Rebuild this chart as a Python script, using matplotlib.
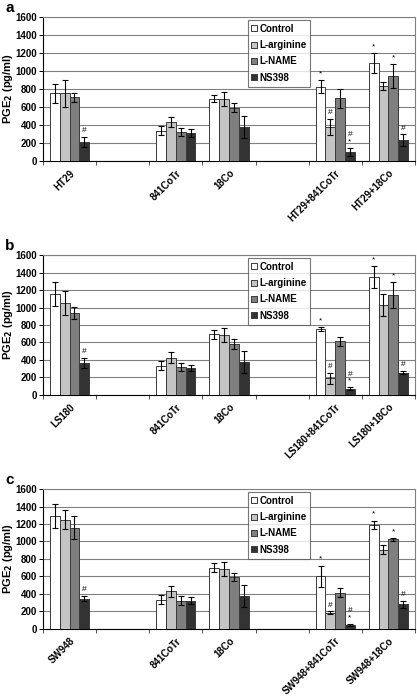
import numpy as np
import matplotlib
matplotlib.use('Agg')
import matplotlib.pyplot as plt

plt.rcParams['font.family'] = ['Liberation Sans', 'DejaVu Sans']
plt.rcParams['font.weight'] = 'bold'

treatments = ['Control', 'L-arginine', 'L-NAME', 'NS398']
colors = ['#ffffff', '#c4c4c4', '#7f7f7f', '#333333']

cats_a = ['HT29', '', '841CoTr', '18Co', '', 'HT29+841CoTr', 'HT29+18Co']
cats_b = ['LS180', '', '841CoTr', '18Co', '', 'LS180+841CoTr', 'LS180+18Co']
cats_c = ['SW948', '', '841CoTr', '18Co', '', 'SW948+841CoTr', 'SW948+18Co']

nan = np.nan
# rows: Control, L-arginine, L-NAME, NS398 ; columns follow categories
mean_a = [[750, nan, 335, 690, nan, 825, 1090],
          [750, nan, 430, 690, nan, 380, 835],
          [710, nan, 320, 590, nan, 695, 945],
          [215, nan, 310, 375, nan, 100, 230]]
err_a = [[105, nan, 50, 40, nan, 75, 110],
         [145, nan, 55, 75, nan, 90, 45],
         [50, nan, 45, 50, nan, 105, 135],
         [55, nan, 40, 120, nan, 45, 65]]

mean_b = [[1155, nan, 335, 695, nan, 755, 1345],
          [1050, nan, 425, 690, nan, 190, 1025],
          [935, nan, 320, 585, nan, 615, 1145],
          [365, nan, 310, 375, nan, 72, 255]]
err_b = [[135, nan, 50, 50, nan, 18, 125],
         [135, nan, 65, 80, nan, 60, 125],
         [70, nan, 45, 55, nan, 50, 145],
         [55, nan, 38, 125, nan, 17, 17]]

mean_c = [[1290, nan, 335, 700, nan, 605, 1190],
          [1250, nan, 430, 690, nan, 185, 905],
          [1160, nan, 325, 590, nan, 415, 1025],
          [345, nan, 320, 380, nan, 45, 285]]
err_c = [[140, nan, 55, 50, nan, 120, 50],
         [105, nan, 60, 80, nan, 15, 50],
         [130, nan, 50, 45, nan, 55, 15],
         [30, nan, 40, 125, nan, 12, 40]]

# significance marks: (category index, treatment index, text)
marks_a = [(0, 3, '#'), (5, 0, '*'), (5, 1, '#'), (5, 3, '#\n*'),
           (6, 0, '*'), (6, 2, '*'), (6, 3, '#')]
marks_b = [(0, 3, '#'), (5, 0, '*'), (5, 1, '#'), (5, 3, '#\n*'),
           (6, 0, '*'), (6, 2, '*'), (6, 3, '#')]
marks_c = [(0, 3, '#'), (5, 0, '*'), (5, 1, '#'), (5, 3, '#\n*'),
           (6, 0, '*'), (6, 2, '*'), (6, 3, '#')]

panels = [('a', cats_a, mean_a, err_a, marks_a),
          ('b', cats_b, mean_b, err_b, marks_b),
          ('c', cats_c, mean_c, err_c, marks_c)]

fig = plt.figure(figsize=(4.17, 6.96), dpi=100)
rects = [[0.1031, 0.7687, 0.892, 0.2069],
         [0.1031, 0.4325, 0.892, 0.2011],
         [0.1031, 0.0963, 0.892, 0.2011]]

bw = 0.185
for (letter, cats, mean, err, marks), r in zip(panels, rects):
    ax = fig.add_axes(r)
    x = np.arange(len(cats))
    mean = np.array(mean, dtype=float)
    err = np.array(err, dtype=float)
    for i in range(4):
        xi = x + (i - 1.5) * bw
        ax.bar(xi, mean[i], bw, color=colors[i], edgecolor='#3a3a3a',
               linewidth=0.7, label=treatments[i], zorder=3)
        ax.errorbar(xi, mean[i], yerr=err[i], fmt='none', ecolor='black',
                    elinewidth=0.8, capsize=2.2, capthick=0.8, zorder=4)
    for c, t, s in marks:
        xm = c + (t - 1.5) * bw
        ym = mean[t, c] + err[t, c]
        ax.annotate(s, (xm, ym), xytext=(0, 2), textcoords='offset points',
                    ha='center', va='bottom', fontsize=6, fontweight='normal',
                    linespacing=0.95, zorder=5)

    ax.set_xlim(-0.5, len(cats) - 0.5)
    ax.set_ylim(0, 1600)
    ax.set_yticks(np.arange(0, 1601, 200))
    ax.yaxis.grid(True, color='#808080', linewidth=0.8, zorder=0)
    ax.set_axisbelow(True)
    ax.set_xticks(x)
    ax.set_xticklabels(cats, rotation=45, ha='right', rotation_mode='anchor',
                       fontsize=7, fontweight='bold')
    ax.tick_params(axis='x', which='major', length=0, pad=5)
    ax.set_xticks(np.arange(-0.5, len(cats)), minor=True)
    ax.tick_params(axis='x', which='minor', length=3, width=0.7, color='#555555')
    ax.tick_params(axis='y', length=3, width=0.7, labelsize=7, pad=1.5)
    for lab in ax.get_yticklabels():
        lab.set_fontweight('bold')
    ax.spines['left'].set_color('black')
    ax.spines['bottom'].set_color('black')
    ax.spines['left'].set_linewidth(0.8)
    ax.spines['bottom'].set_linewidth(0.8)
    ax.spines['top'].set_color('#808080')
    ax.spines['right'].set_color('#808080')
    ax.set_ylabel('PGE$_\\mathbf{2}$ (pg/ml)', fontsize=8, fontweight='bold')
    ax.yaxis.set_label_coords(-0.093, 0.5)
    ax.yaxis.label.set_va('center')

    leg = ax.legend(loc='upper left', bbox_to_anchor=(0.55, 0.98), borderaxespad=0,
                    fontsize=7, frameon=True, fancybox=False, edgecolor='#555555',
                    handlelength=0.6, handleheight=0.6, handletextpad=0.2,
                    labelspacing=0.65, borderpad=0.4)
    leg.get_frame().set_linewidth(0.8)
    for t in leg.get_texts():
        t.set_fontweight('bold')

    fig.text(0.012, r[1] + r[3] + 0.003, letter, fontsize=11, fontweight='bold',
             ha='left', va='bottom')

fig.savefig('out.png', dpi=100)
